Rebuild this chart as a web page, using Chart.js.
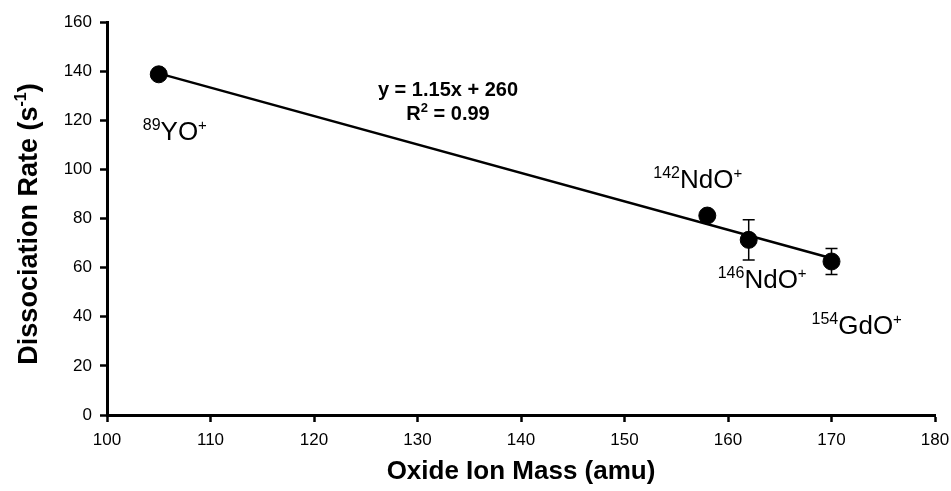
<!DOCTYPE html>
<html lang="en">
<head>
    <meta charset="UTF-8">
    <title>Dissociation Rate vs Oxide Ion Mass</title>
    <script src="https://cdn.jsdelivr.net/npm/chart.js"></script>
    <style>
        * { margin: 0; padding: 0; box-sizing: border-box; }
        body { background: #fff; width: 951px; height: 491px; overflow: hidden; }
        .wrap { position: relative; width: 951px; height: 491px; }
    </style>
</head>
<body>
    <div class="wrap"><canvas id="chart" width="951" height="491"></canvas></div>

    <script>
        // data
        const ionLabels = ['YO', 'NdO', 'NdO', 'GdO'];
        const isotopes = ['89', '142', '146', '154'];
        const masses = [105, 158, 162, 170];
        const rates = [138.7, 81.2, 71.3, 62.5];
        const errors = [0, 0, 8.2, 5.3];
        const trendX = [105, 170];
        const trendY = [139.1, 63.8];
        const xTicks = [100, 110, 120, 130, 140, 150, 160, 170, 180];
        const yTicks = [0, 20, 40, 60, 80, 100, 120, 140, 160];

        const FONT = "'Liberation Sans', Arial, sans-serif";

        // label offsets in px from each point (start x, baseline y)
        const labelOffsets = [[-16, 66], [-54, -28], [-31, 48], [-20, 73]];

        const annotate = {
            id: 'annotate',
            afterDatasetsDraw(chart) {
                const { ctx, scales: { x, y } } = chart;
                ctx.save();
                ctx.fillStyle = '#000';
                ctx.strokeStyle = '#000';

                // error bars
                ctx.lineWidth = 1.5;
                masses.forEach((m, i) => {
                    if (!errors[i]) return;
                    const px = x.getPixelForValue(m);
                    const top = y.getPixelForValue(rates[i] + errors[i]);
                    const bot = y.getPixelForValue(rates[i] - errors[i]);
                    ctx.beginPath();
                    ctx.moveTo(px, top); ctx.lineTo(px, bot);
                    ctx.moveTo(px - 6, top); ctx.lineTo(px + 6, top);
                    ctx.moveTo(px - 6, bot); ctx.lineTo(px + 6, bot);
                    ctx.stroke();
                });

                // ion labels with superscripts
                ctx.textBaseline = 'alphabetic';
                ctx.textAlign = 'left';
                masses.forEach((m, i) => {
                    let px = x.getPixelForValue(m) + labelOffsets[i][0];
                    const py = y.getPixelForValue(rates[i]) + labelOffsets[i][1];
                    ctx.font = '16px ' + FONT;
                    ctx.fillText(isotopes[i], px, py - 10);
                    px += ctx.measureText(isotopes[i]).width;
                    ctx.font = '26px ' + FONT;
                    ctx.fillText(ionLabels[i], px, py);
                    px += ctx.measureText(ionLabels[i]).width;
                    ctx.font = '15px ' + FONT;
                    ctx.fillText('+', px, py - 10);
                });

                // regression text
                ctx.font = 'bold 20px ' + FONT;
                ctx.textAlign = 'center';
                ctx.fillText('y = 1.15x + 260', 448, 96);
                const r1 = 'R', r2 = ' = 0.99';
                const w1 = ctx.measureText(r1).width, w3 = ctx.measureText(r2).width;
                ctx.font = 'bold 13px ' + FONT;
                const w2 = ctx.measureText('2').width;
                const sx = 448 - (w1 + w2 + w3) / 2;
                ctx.textAlign = 'left';
                ctx.font = 'bold 20px ' + FONT;
                ctx.fillText(r1, sx, 120);
                ctx.font = 'bold 13px ' + FONT;
                ctx.fillText('2', sx + w1, 112);
                ctx.font = 'bold 20px ' + FONT;
                ctx.fillText(r2, sx + w1 + w2, 120);

                // y axis title
                ctx.translate(37, 224);
                ctx.rotate(-Math.PI / 2);
                const t1 = 'Dissociation Rate (s', t2 = '-1', t3 = ')';
                ctx.font = 'bold 27px ' + FONT;
                const a = ctx.measureText(t1).width, c = ctx.measureText(t3).width;
                ctx.font = 'bold 16px ' + FONT;
                const b = ctx.measureText(t2).width;
                const tx = -(a + b + c) / 2;
                ctx.font = 'bold 27px ' + FONT;
                ctx.fillText(t1, tx, 0);
                ctx.font = 'bold 16px ' + FONT;
                ctx.fillText(t2, tx + a, -11);
                ctx.font = 'bold 27px ' + FONT;
                ctx.fillText(t3, tx + a + b, 0);
                ctx.restore();
            }
        };

        new Chart(document.getElementById('chart'), {
            type: 'scatter',
            data: {
                datasets: [
                    {
                        label: 'Dissociation rate',
                        data: masses.map((m, i) => ({ x: m, y: rates[i] })),
                        backgroundColor: '#000',
                        borderColor: '#000',
                        pointRadius: 8.5,
                        pointHoverRadius: 8.5
                    },
                    {
                        label: 'Linear fit',
                        type: 'line',
                        data: trendX.map((v, i) => ({ x: v, y: trendY[i] })),
                        borderColor: '#000',
                        borderWidth: 2.5,
                        pointRadius: 0,
                        fill: false
                    }
                ]
            },
            options: {
                responsive: false,
                animation: false,
                layout: { padding: { top: 22, right: 16, left: 0, bottom: 0 } },
                plugins: { legend: { display: false }, tooltip: { enabled: false } },
                scales: {
                    x: {
                        type: 'linear',
                        min: 100, max: 180,
                        afterBuildTicks: ax => { ax.ticks = xTicks.map(v => ({ value: v })); },
                        afterFit: ax => { ax.height = 76; ax.paddingRight = 0; ax.paddingLeft = 0; },
                        border: { display: true, color: '#000', width: 3 },
                        grid: { display: true, drawOnChartArea: false, drawTicks: true, tickLength: 7, tickWidth: 2.5, tickColor: '#000' },
                        ticks: { color: '#000', font: { family: FONT, size: 17 }, padding: 8, maxRotation: 0, autoSkip: false },
                        title: { display: true, text: 'Oxide Ion Mass (amu)', color: '#000', font: { family: FONT, size: 26, weight: 'bold' }, padding: { top: 12 } }
                    },
                    y: {
                        min: 0, max: 160,
                        afterBuildTicks: ax => { ax.ticks = yTicks.map(v => ({ value: v })); },
                        afterFit: ax => { ax.width = 107; ax.paddingTop = 0; ax.paddingBottom = 0; },
                        border: { display: true, color: '#000', width: 3 },
                        grid: { display: true, drawOnChartArea: false, drawTicks: true, tickLength: 7, tickWidth: 2.5, tickColor: '#000' },
                        ticks: { color: '#000', font: { family: FONT, size: 17 }, padding: 8, autoSkip: false }
                    }
                }
            },
            plugins: [annotate]
        });
    </script>
</body>
</html>
